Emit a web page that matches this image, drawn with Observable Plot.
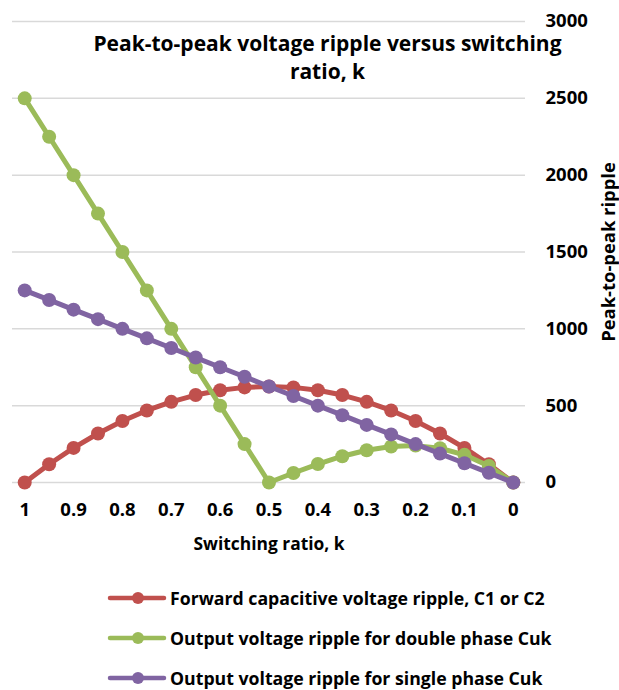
<!DOCTYPE html>
<html><head><meta charset="utf-8">
<script src="https://cdn.jsdelivr.net/npm/d3@7"></script>
<script src="https://cdn.jsdelivr.net/npm/@observablehq/plot@0.6"></script>
<style>
body{margin:0;background:#fff;font-family:"Open Sans",sans-serif;}
#wrap{position:relative;width:619px;height:690px;overflow:hidden;}
#title{position:absolute;left:40px;width:575px;top:29px;text-align:center;font-weight:700;font-size:21px;line-height:28px;color:#000;}
#legend{position:absolute;left:107px;top:578px;}
.row{display:flex;align-items:center;height:40px;font-weight:700;font-size:17.7px;color:#000;white-space:nowrap;}
.row svg{margin-right:3px;}
</style></head><body>
<div id="wrap"><div id="chart"></div>
<div id="title">Peak-to-peak voltage ripple versus switching<br>ratio, k</div>
<div id="legend"></div></div>
<script>
const k = [1,0.95,0.9,0.85,0.8,0.75,0.7,0.65,0.6,0.55,0.5,0.45,0.4,0.35,0.3,0.25,0.2,0.15,0.1,0.05,0];
const forwardC = [0,119,225,319,400,469,525,569,600,619,625,619,600,569,525,469,400,319,225,119,0];
const doublePhase = [2500,2250,2000,1750,1500,1250,1000,750,500,250,0,62,120,171,210,234,240,223,180,107,0];
const singlePhase = [1250,1188,1125,1063,1000,938,875,813,750,688,625,563,500,438,375,313,250,188,125,63,0];
const seriesNames = ["Forward capacitive voltage ripple, C1 or C2","Output voltage ripple for double phase Cuk","Output voltage ripple for single phase Cuk"];
const seriesColors = ["#C0504D","#9BBB59","#8064A2"];
const xTicks = [1,0.9,0.8,0.7,0.6,0.5,0.4,0.3,0.2,0.1,0];
const yTicks = [0,500,1000,1500,2000,2500,3000];

const seriesValues = [forwardC, doublePhase, singlePhase];
const rowsBySeries = seriesValues.map((vals, si) => k.map((kv, i) => ({k: kv, v: vals[i], s: seriesNames[si]})));

const marks = [
  Plot.gridY(yTicks, {stroke: "#d9d9d9", strokeOpacity: 1, strokeWidth: 1.5}),
  Plot.axisX(xTicks, {tickSize: 0, tickPadding: 20, tickFormat: d => String(d), fontSize: 18.5, label: null}),
  Plot.axisX({ticks: [], tickSize: 0, label: "Switching ratio, k", labelAnchor: "center", labelOffset: 67, labelArrow: "none", fontSize: 17.4}),
  Plot.axisY(yTicks, {anchor: "right", tickSize: 0, tickPadding: 20, tickFormat: d => String(d), fontSize: 18.5, label: null}),
  Plot.axisY({anchor: "right", ticks: [], tickSize: 0, label: "Peak-to-peak ripple", labelAnchor: "center", labelOffset: 89, labelArrow: "none", fontSize: 18.4})
];
rowsBySeries.forEach(rows => {
  marks.push(Plot.line(rows, {x: "k", y: "v", stroke: "s", strokeWidth: 5}));
  marks.push(Plot.dot(rows, {x: "k", y: "v", fill: "s", r: 7}));
});

const chart = Plot.plot({
  width: 619, height: 560,
  marginTop: 21, marginBottom: 78, marginLeft: 12, marginRight: 94,
  style: {fontFamily: "'Open Sans', sans-serif", fontWeight: "700", fontSize: "16px", color: "#000", background: "white", overflow: "visible"},
  x: {domain: [1.025, -0.025]},
  y: {domain: [0, 3000]},
  color: {domain: seriesNames, range: seriesColors},
  marks
});
document.getElementById("chart").appendChild(chart);

const legend = document.getElementById("legend");
seriesNames.forEach((name, i) => {
  const row = document.createElement("div");
  row.className = "row";
  row.innerHTML = `<svg width="60" height="14"><line x1="3" y1="7" x2="57" y2="7" stroke="${seriesColors[i]}" stroke-width="4.5" stroke-linecap="round"/><circle cx="31" cy="7" r="6" fill="${seriesColors[i]}"/></svg><span>${name}</span>`;
  legend.appendChild(row);
});
</script>
</body></html>
